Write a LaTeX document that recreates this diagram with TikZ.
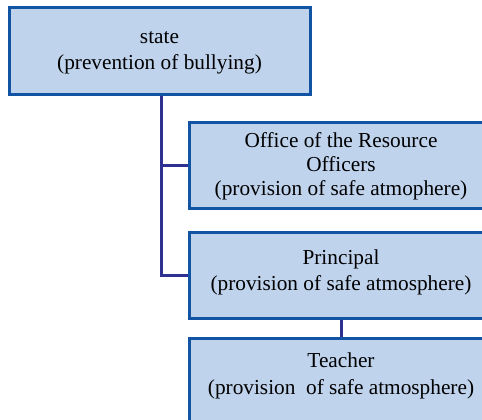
\documentclass[tikz,border=0pt]{standalone}
\usepackage{fontspec}
\setmainfont{Liberation Serif}
\usepackage{tikz}
\usetikzlibrary{calc, positioning}
\definecolor{boxfill}{RGB}{191,211,237}
\definecolor{boxline}{RGB}{16,84,163}
\definecolor{linkcol}{RGB}{46,49,146}
\tikzset{
	unit/.style={draw=boxline, fill=boxfill, line width=3pt, minimum width=301pt, minimum height=86pt, inner sep=0pt, align=center, font={\fontsize{21.3}{26.5}\selectfont}},
	wide/.style={minimum width=304pt},
	lift/.style={text depth=#1},
	link/.style={draw=linkcol, line width=3pt}
}

\begin{document}
\begin{tikzpicture}[x=1pt,y=-1pt]
\useasboundingbox (0,0) rectangle (482,420);
\clip (0,0) rectangle (482,420);
	% boxes
\node [unit, lift=1pt] (state) at (159.5,51) {state\\(prevention of bullying)};
\node [unit, wide, font={\fontsize{21.3}{24}\selectfont}, lift=1.5pt] (office) at (341,165) {Office of the Resource\\Officers\\(provision of safe atmophere)};
\node [unit, wide, lift=9.5pt] (principal) at (341,275) {Principal\\(provision of safe atmosphere)};
\node [unit, wide, lift=14.5pt] (teacher) at (341,381) {Teacher\\(provision\ \ of safe atmosphere)};
	% links
\coordinate (top) at ($(state.south)+(1.5,0)$);
\draw [link] (top) |- (principal.west);
\draw [link] (top |- office.west) -- (office.west);
\draw [link] (principal.south) -- (teacher.north);
\end{tikzpicture}
\end{document}
